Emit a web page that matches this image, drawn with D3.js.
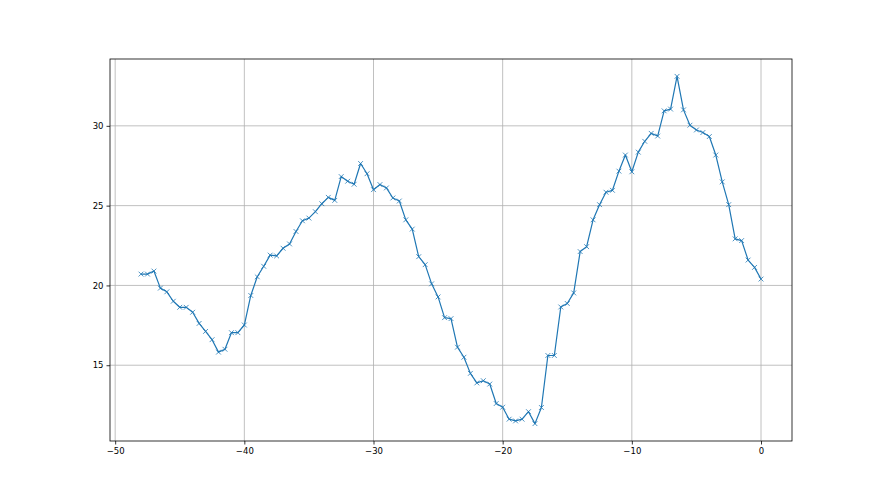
<!DOCTYPE html>
<html>
<head>
<meta charset="utf-8">
<script src="https://cdn.jsdelivr.net/npm/d3@7"></script>
<style>
  html, body { margin: 0; padding: 0; background: #fff; }
  svg { display: block; }
  text { font-family: "DejaVu Sans", sans-serif; }
</style>
</head>
<body>
<svg id="chart" width="880" height="495"></svg>
<script>
const xValues = [-48, -47.5, -47, -46.5, -46, -45.5, -45, -44.5, -44, -43.5, -43, -42.5, -42, -41.5, -41, -40.5,
  -40, -39.5, -39, -38.5, -38, -37.5, -37, -36.5, -36, -35.5, -35, -34.5, -34, -33.5, -33, -32.5,
  -32, -31.5, -31, -30.5, -30, -29.5, -29, -28.5, -28, -27.5, -27, -26.5, -26, -25.5, -25, -24.5,
  -24, -23.5, -23, -22.5, -22, -21.5, -21, -20.5, -20, -19.5, -19, -18.5, -18, -17.5, -17, -16.5,
  -16, -15.5, -15, -14.5, -14, -13.5, -13, -12.5, -12, -11.5, -11, -10.5, -10, -9.5, -9, -8.5,
  -8, -7.5, -7, -6.5, -6, -5.5, -5, -4.5, -4, -3.5, -3, -2.5, -2, -1.5, -1, -0.5, 0];
const yValues = [20.71, 20.71, 20.9, 19.83, 19.6, 19.01, 18.63, 18.63, 18.32, 17.62, 17.12, 16.6, 15.82, 16.0, 17.04, 17.04,
  17.52, 19.37, 20.54, 21.2, 21.9, 21.85, 22.33, 22.6, 23.38, 24.05, 24.22, 24.62, 25.12, 25.52, 25.33, 26.82,
  26.53, 26.34, 27.64, 27.0, 26.0, 26.32, 26.11, 25.48, 25.29, 24.11, 23.53, 21.8, 21.3, 20.1, 19.28, 17.98,
  17.92, 16.13, 15.5, 14.49, 13.89, 14.03, 13.82, 12.6, 12.37, 11.62, 11.51, 11.62, 12.09, 11.34, 12.35, 15.61,
  15.61, 18.65, 18.87, 19.53, 22.12, 22.43, 24.11, 25.06, 25.84, 25.96, 27.16, 28.17, 27.12, 28.35, 29.03, 29.53,
  29.36, 30.94, 31.05, 33.1, 31.0, 30.04, 29.74, 29.58, 29.33, 28.17, 26.49, 25.06, 22.92, 22.81, 21.59, 21.13, 20.4];
const xTicks = [-50, -40, -30, -20, -10, 0];
const yTicks = [15, 20, 25, 30];

(function () {
const svg = d3.select("#chart");
const pl = 110, pr = 792, pt = 59, pb = 441;

const xExt = d3.extent(xValues), yExt = d3.extent(yValues);
const xPad = (xExt[1] - xExt[0]) * 0.05, yPad = (yExt[1] - yExt[0]) * 0.05;
const x = d3.scaleLinear().domain([xExt[0] - xPad, xExt[1] + xPad]).range([pl, pr]);
const y = d3.scaleLinear().domain([yExt[0] - yPad, yExt[1] + yPad]).range([pb, pt]);

const data = xValues.map((v, i) => ({ x: v, y: yValues[i] }));

// grid
const grid = svg.append("g");
grid.selectAll("line.gx").data(xTicks).enter().append("line")
  .attr("x1", d => x(d)).attr("x2", d => x(d)).attr("y1", pt).attr("y2", pb)
  .attr("stroke", "#b0b0b0").attr("stroke-width", 0.8);
grid.selectAll("line.gy").data(yTicks).enter().append("line")
  .attr("x1", pl).attr("x2", pr).attr("y1", d => y(d)).attr("y2", d => y(d))
  .attr("stroke", "#b0b0b0").attr("stroke-width", 0.8);

// axes
const xAxis = d3.axisBottom(x).tickValues(xTicks).tickSize(3.5).tickPadding(3)
  .tickFormat(d => d3.format("d")(d).replace("-", "\u2212"));
const yAxis = d3.axisLeft(y).tickValues(yTicks).tickSize(3.5).tickPadding(3)
  .tickFormat(d3.format("d"));

const gx = svg.append("g").attr("transform", `translate(0,${pb})`).call(xAxis);
const gy = svg.append("g").attr("transform", `translate(${pl},0)`).call(yAxis);
[gx, gy].forEach(g => {
  g.select(".domain").remove();
  g.selectAll(".tick line").attr("stroke", "#000").attr("stroke-width", 0.8);
  g.selectAll(".tick text").attr("fill", "#000").style("font-size", "8.5px")
    .style("font-family", "'DejaVu Sans', sans-serif");
});

// line
const line = d3.line().x(d => x(d.x)).y(d => y(d.y));
svg.append("path").datum(data).attr("d", line)
  .attr("fill", "none").attr("stroke", "#1f77b4").attr("stroke-width", 1.2)
  .attr("stroke-linejoin", "round");

// x markers
const m = 2.4;
svg.append("g").selectAll("path").data(data).enter().append("path")
  .attr("d", d => {
    const cx = x(d.x), cy = y(d.y);
    return `M${cx - m},${cy - m}L${cx + m},${cy + m}M${cx - m},${cy + m}L${cx + m},${cy - m}`;
  })
  .attr("stroke", "#1f77b4").attr("stroke-width", 0.8).attr("fill", "none");

// frame
svg.append("rect").attr("x", pl).attr("y", pt).attr("width", pr - pl).attr("height", pb - pt)
  .attr("fill", "none").attr("stroke", "#000").attr("stroke-width", 0.8);
})();
</script>
</body>
</html>
